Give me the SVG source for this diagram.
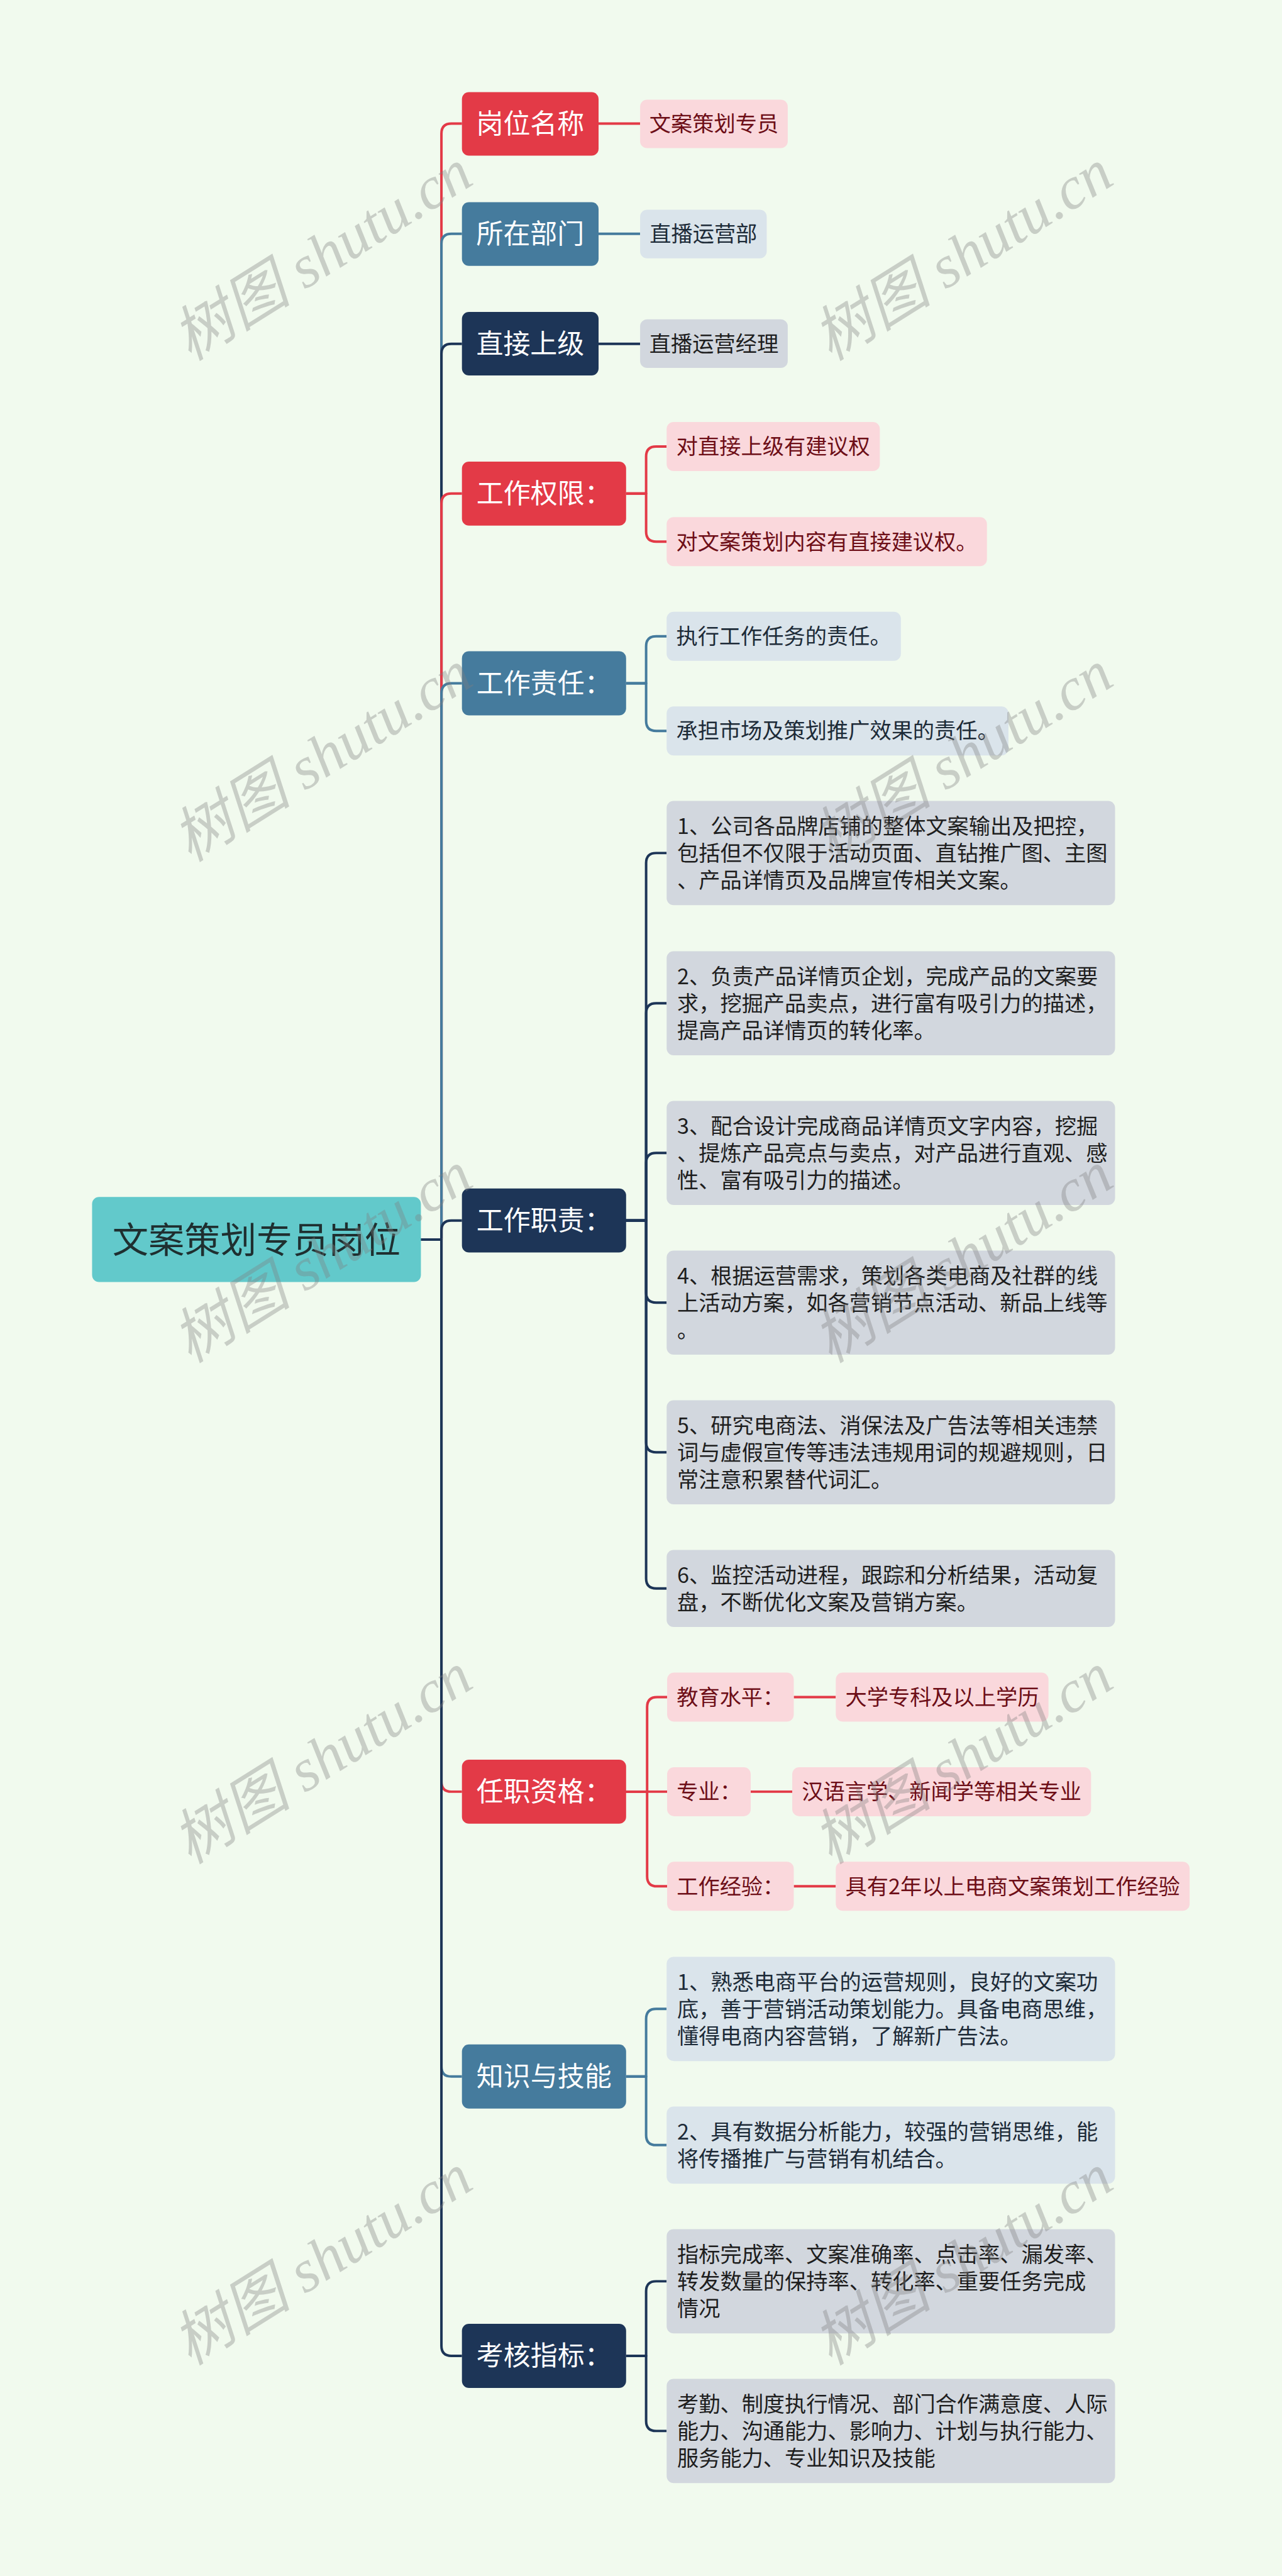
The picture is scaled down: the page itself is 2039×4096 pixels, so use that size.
<svg xmlns="http://www.w3.org/2000/svg" width="2039" height="4096" viewBox="0 0 2039 4096">
<style>
.bg{fill:#F1FAEE}
.c{fill:none;stroke-width:5;stroke-linecap:butt;stroke-linejoin:round}
.cr{stroke:#E33A47}.cb{stroke:#457B9D}.cn{stroke:#1D3557}
.root{fill:#62C9CB}
.l1r{fill:#E33A47}.l1b{fill:#457B9D}.l1n{fill:#1D3557}
.pk{fill:#FAD8DC}.lb{fill:#DAE4EB}.gy{fill:#D2D7DE}
text{font-family:"Noto Sans CJK SC","Noto Sans",sans-serif}
.tr{font-size:72px;fill:#1F2F30;text-anchor:middle}
.t1{font-size:54px;fill:#FFFFFF;text-anchor:middle}
.t2{font-size:43px;text-anchor:middle}
.t3{font-size:43px}
.fpk{fill:#6D0E17}.flb{fill:#1D2B38}.fgy{fill:#1E1E1E}
.wm{font-family:"Liberation Serif","Noto Sans CJK SC",serif;font-style:italic;font-size:120px;fill:#7F7F7F;fill-opacity:0.36;text-anchor:middle}
</style>
<rect class="bg" x="0" y="0" width="2039" height="4096"/>
<g transform="scale(0.796)">
<g id="connectors">
<path class="c cr" d="M841,2476 H882 V267 Q882,247 902,247 H923"/>
<path class="c cb" d="M841,2476 H882 V487 Q882,467 902,467 H923"/>
<path class="c cn" d="M841,2476 H882 V707 Q882,687 902,687 H923"/>
<path class="c cr" d="M841,2476 H882 V1006 Q882,986 902,986 H923"/>
<path class="c cb" d="M841,2476 H882 V1385 Q882,1365 902,1365 H923"/>
<path class="c cn" d="M841,2476 H882 V2458 Q882,2438 902,2438 H923"/>
<path class="c cr" d="M841,2476 H882 V3559 Q882,3579 902,3579 H923"/>
<path class="c cb" d="M841,2476 H882 V4128 Q882,4148 902,4148 H923"/>
<path class="c cn" d="M841,2476 H882 V4686 Q882,4706 902,4706 H923"/>
<path class="c cr" d="M1196,247 H1279"/>
<path class="c cb" d="M1196,467 H1279"/>
<path class="c cn" d="M1196,687 H1279"/>
<path class="c cr" d="M1251,986 H1291 V912 Q1291,892 1311,892 H1332"/>
<path class="c cr" d="M1251,986 H1291 V1062 Q1291,1082 1311,1082 H1332"/>
<path class="c cb" d="M1251,1365 H1291 V1291 Q1291,1271 1311,1271 H1332"/>
<path class="c cb" d="M1251,1365 H1291 V1440 Q1291,1460 1311,1460 H1332"/>
<path class="c cn" d="M1250,2438 H1291 V1724 Q1291,1704 1311,1704 H1332"/>
<path class="c cn" d="M1250,2438 H1291 V2024 Q1291,2004 1311,2004 H1332"/>
<path class="c cn" d="M1250,2438 H1291 V2323 Q1291,2303 1311,2303 H1332"/>
<path class="c cn" d="M1250,2438 H1291 V2582 Q1291,2602 1311,2602 H1332"/>
<path class="c cn" d="M1250,2438 H1291 V2881 Q1291,2901 1311,2901 H1332"/>
<path class="c cn" d="M1250,2438 H1291 V3153 Q1291,3173 1311,3173 H1332"/>
<path class="c cr" d="M1250,3579 H1293 V3410 Q1293,3390 1313,3390 H1333"/>
<path class="c cr" d="M1250,3579 H1333"/>
<path class="c cr" d="M1250,3579 H1293 V3748 Q1293,3768 1313,3768 H1333"/>
<path class="c cr" d="M1586,3390 H1670"/>
<path class="c cr" d="M1500,3579 H1583"/>
<path class="c cr" d="M1586,3768 H1670"/>
<path class="c cb" d="M1251,4148 H1291 V4033 Q1291,4013 1311,4013 H1332"/>
<path class="c cb" d="M1251,4148 H1291 V4265 Q1291,4285 1311,4285 H1332"/>
<path class="c cn" d="M1251,4706 H1291 V4577 Q1291,4557 1311,4557 H1332"/>
<path class="c cn" d="M1251,4706 H1291 V4836 Q1291,4856 1311,4856 H1332"/>
</g>
<g id="root"><rect class="root" x="184" y="2391" width="657" height="170" rx="14"/><text class="tr" x="512.5" y="2502">文案策划专员岗位</text></g>

<g id="n1"><rect class="l1r" x="923" y="184" width="273" height="127" rx="14"/><text class="t1" x="1059.5" y="266.5">岗位名称</text></g>
<g id="n1a"><rect class="pk" x="1279" y="199" width="295" height="97" rx="14"/><text class="t2 fpk" x="1426.5" y="263">文案策划专员</text></g>

<g id="n2"><rect class="l1b" x="923" y="404" width="273" height="127" rx="14"/><text class="t1" x="1059.5" y="486.5">所在部门</text></g>
<g id="n2a"><rect class="lb" x="1279" y="419" width="253" height="97" rx="14"/><text class="t2 flb" x="1405.5" y="483">直播运营部</text></g>

<g id="n3"><rect class="l1n" x="923" y="623" width="273" height="127" rx="14"/><text class="t1" x="1059.5" y="706.5">直接上级</text></g>
<g id="n3a"><rect class="gy" x="1279" y="638" width="295" height="97" rx="14"/><text class="t2 fgy" x="1426.5" y="702.5">直播运营经理</text></g>

<g id="n4"><rect class="l1r" x="923" y="922" width="328" height="128" rx="14"/><text class="t1" x="1087" y="1005.5">工作权限：</text></g>
<g id="n4a"><rect class="pk" x="1332" y="843" width="426" height="98" rx="14"/><text class="t2 fpk" x="1545" y="907.5">对直接上级有建议权</text></g>
<g id="n4b"><rect class="pk" x="1332" y="1033" width="640" height="98" rx="14"/><text class="t2 fpk" x="1652" y="1097.5">对文案策划内容有直接建议权。</text></g>

<g id="n5"><rect class="l1b" x="923" y="1301" width="328" height="128" rx="14"/><text class="t1" x="1087" y="1384.5">工作责任：</text></g>
<g id="n5a"><rect class="lb" x="1332" y="1222" width="468" height="98" rx="14"/><text class="t2 flb" x="1566" y="1286.5">执行工作任务的责任。</text></g>
<g id="n5b"><rect class="lb" x="1332" y="1411" width="683" height="98" rx="14"/><text class="t2 flb" x="1673.5" y="1475.5">承担市场及策划推广效果的责任。</text></g>

<g id="n6"><rect class="l1n" x="923" y="2374" width="328" height="128" rx="14"/><text class="t1" x="1087" y="2457.5">工作职责：</text></g>
<g id="n6a"><rect class="gy" x="1332" y="1600" width="896" height="208" rx="14"/><text class="t3 fgy" x="1353" y="1665.5">1、公司各品牌店铺的整体文案输出及把控，</text><text class="t3 fgy" x="1353" y="1719.5">包括但不仅限于活动页面、直钻推广图、主图</text><text class="t3 fgy" x="1353" y="1773.5">、产品详情页及品牌宣传相关文案。</text></g>
<g id="n6b"><rect class="gy" x="1332" y="1900" width="896" height="208" rx="14"/><text class="t3 fgy" x="1353" y="1965.5">2、负责产品详情页企划，完成产品的文案要</text><text class="t3 fgy" x="1353" y="2019.5">求，挖掘产品卖点，进行富有吸引力的描述，</text><text class="t3 fgy" x="1353" y="2073.5">提高产品详情页的转化率。</text></g>
<g id="n6c"><rect class="gy" x="1332" y="2199" width="896" height="208" rx="14"/><text class="t3 fgy" x="1353" y="2264.5">3、配合设计完成商品详情页文字内容，挖掘</text><text class="t3 fgy" x="1353" y="2318.5">、提炼产品亮点与卖点，对产品进行直观、感</text><text class="t3 fgy" x="1353" y="2372.5">性、富有吸引力的描述。</text></g>
<g id="n6d"><rect class="gy" x="1332" y="2498" width="896" height="208" rx="14"/><text class="t3 fgy" x="1353" y="2563.5">4、根据运营需求，策划各类电商及社群的线</text><text class="t3 fgy" x="1353" y="2617.5">上活动方案，如各营销节点活动、新品上线等</text><text class="t3 fgy" x="1353" y="2671.5">。</text></g>
<g id="n6e"><rect class="gy" x="1332" y="2797" width="896" height="208" rx="14"/><text class="t3 fgy" x="1353" y="2862.5">5、研究电商法、消保法及广告法等相关违禁</text><text class="t3 fgy" x="1353" y="2916.5">词与虚假宣传等违法违规用词的规避规则，日</text><text class="t3 fgy" x="1353" y="2970.5">常注意积累替代词汇。</text></g>
<g id="n6f"><rect class="gy" x="1332" y="3096" width="896" height="154" rx="14"/><text class="t3 fgy" x="1353" y="3161.5">6、监控活动进程，跟踪和分析结果，活动复</text><text class="t3 fgy" x="1353" y="3215.5">盘，不断优化文案及营销方案。</text></g>

<g id="n7"><rect class="l1r" x="923" y="3515" width="328" height="128" rx="14"/><text class="t1" x="1087" y="3598.5">任职资格：</text></g>
<g id="n7a"><rect class="pk" x="1333" y="3341" width="253" height="98" rx="14"/><text class="t2 fpk" x="1459.5" y="3405.5">教育水平：</text></g>
<g id="n7a1"><rect class="pk" x="1670" y="3341" width="425" height="98" rx="14"/><text class="t2 fpk" x="1882.5" y="3405.5">大学专科及以上学历</text></g>
<g id="n7b"><rect class="pk" x="1333" y="3530" width="167" height="98" rx="14"/><text class="t2 fpk" x="1416.5" y="3594.5">专业：</text></g>
<g id="n7b1"><rect class="pk" x="1583" y="3530" width="597" height="98" rx="14"/><text class="t2 fpk" x="1881.5" y="3594.5">汉语言学、新闻学等相关专业</text></g>
<g id="n7c"><rect class="pk" x="1333" y="3719" width="253" height="98" rx="14"/><text class="t2 fpk" x="1459.5" y="3783.5">工作经验：</text></g>
<g id="n7c1"><rect class="pk" x="1670" y="3719" width="707" height="98" rx="14"/><text class="t2 fpk" x="2023.5" y="3783.5">具有2年以上电商文案策划工作经验</text></g>

<g id="n8"><rect class="l1b" x="923" y="4084" width="328" height="128" rx="14"/><text class="t1" x="1087" y="4167.5">知识与技能</text></g>
<g id="n8a"><rect class="lb" x="1332" y="3909" width="896" height="208" rx="14"/><text class="t3 flb" x="1353" y="3974.5">1、熟悉电商平台的运营规则，良好的文案功</text><text class="t3 flb" x="1353" y="4028.5">底，善于营销活动策划能力。具备电商思维，</text><text class="t3 flb" x="1353" y="4082.5">懂得电商内容营销，了解新广告法。</text></g>
<g id="n8b"><rect class="lb" x="1332" y="4208" width="896" height="154" rx="14"/><text class="t3 flb" x="1353" y="4273.5">2、具有数据分析能力，较强的营销思维，能</text><text class="t3 flb" x="1353" y="4327.5">将传播推广与营销有机结合。</text></g>

<g id="n9"><rect class="l1n" x="923" y="4642" width="328" height="128" rx="14"/><text class="t1" x="1087" y="4725.5">考核指标：</text></g>
<g id="n9a"><rect class="gy" x="1332" y="4453" width="896" height="208" rx="14"/><text class="t3 fgy" x="1353" y="4518.5">指标完成率、文案准确率、点击率、漏发率、</text><text class="t3 fgy" x="1353" y="4572.5">转发数量的保持率、转化率、重要任务完成</text><text class="t3 fgy" x="1353" y="4626.5">情况</text></g>
<g id="n9b"><rect class="gy" x="1332" y="4752" width="896" height="208" rx="14"/><text class="t3 fgy" x="1353" y="4817.5">考勤、制度执行情况、部门合作满意度、人际</text><text class="t3 fgy" x="1353" y="4871.5">能力、沟通能力、影响力、计划与执行能力、</text><text class="t3 fgy" x="1353" y="4925.5">服务能力、专业知识及技能</text></g>

<g id="watermarks">
<text class="wm" x="644" y="550" transform="rotate(-32 644 510)">树图 shutu.cn</text>
<text class="wm" x="1924" y="550" transform="rotate(-32 1924 510)">树图 shutu.cn</text>
<text class="wm" x="644" y="1551" transform="rotate(-32 644 1511)">树图 shutu.cn</text>
<text class="wm" x="1924" y="1551" transform="rotate(-32 1924 1511)">树图 shutu.cn</text>
<text class="wm" x="644" y="2552" transform="rotate(-32 644 2512)">树图 shutu.cn</text>
<text class="wm" x="1924" y="2552" transform="rotate(-32 1924 2512)">树图 shutu.cn</text>
<text class="wm" x="644" y="3553" transform="rotate(-32 644 3513)">树图 shutu.cn</text>
<text class="wm" x="1924" y="3553" transform="rotate(-32 1924 3513)">树图 shutu.cn</text>
<text class="wm" x="644" y="4554" transform="rotate(-32 644 4514)">树图 shutu.cn</text>
<text class="wm" x="1924" y="4554" transform="rotate(-32 1924 4514)">树图 shutu.cn</text>
</g>
</g>
</svg>
